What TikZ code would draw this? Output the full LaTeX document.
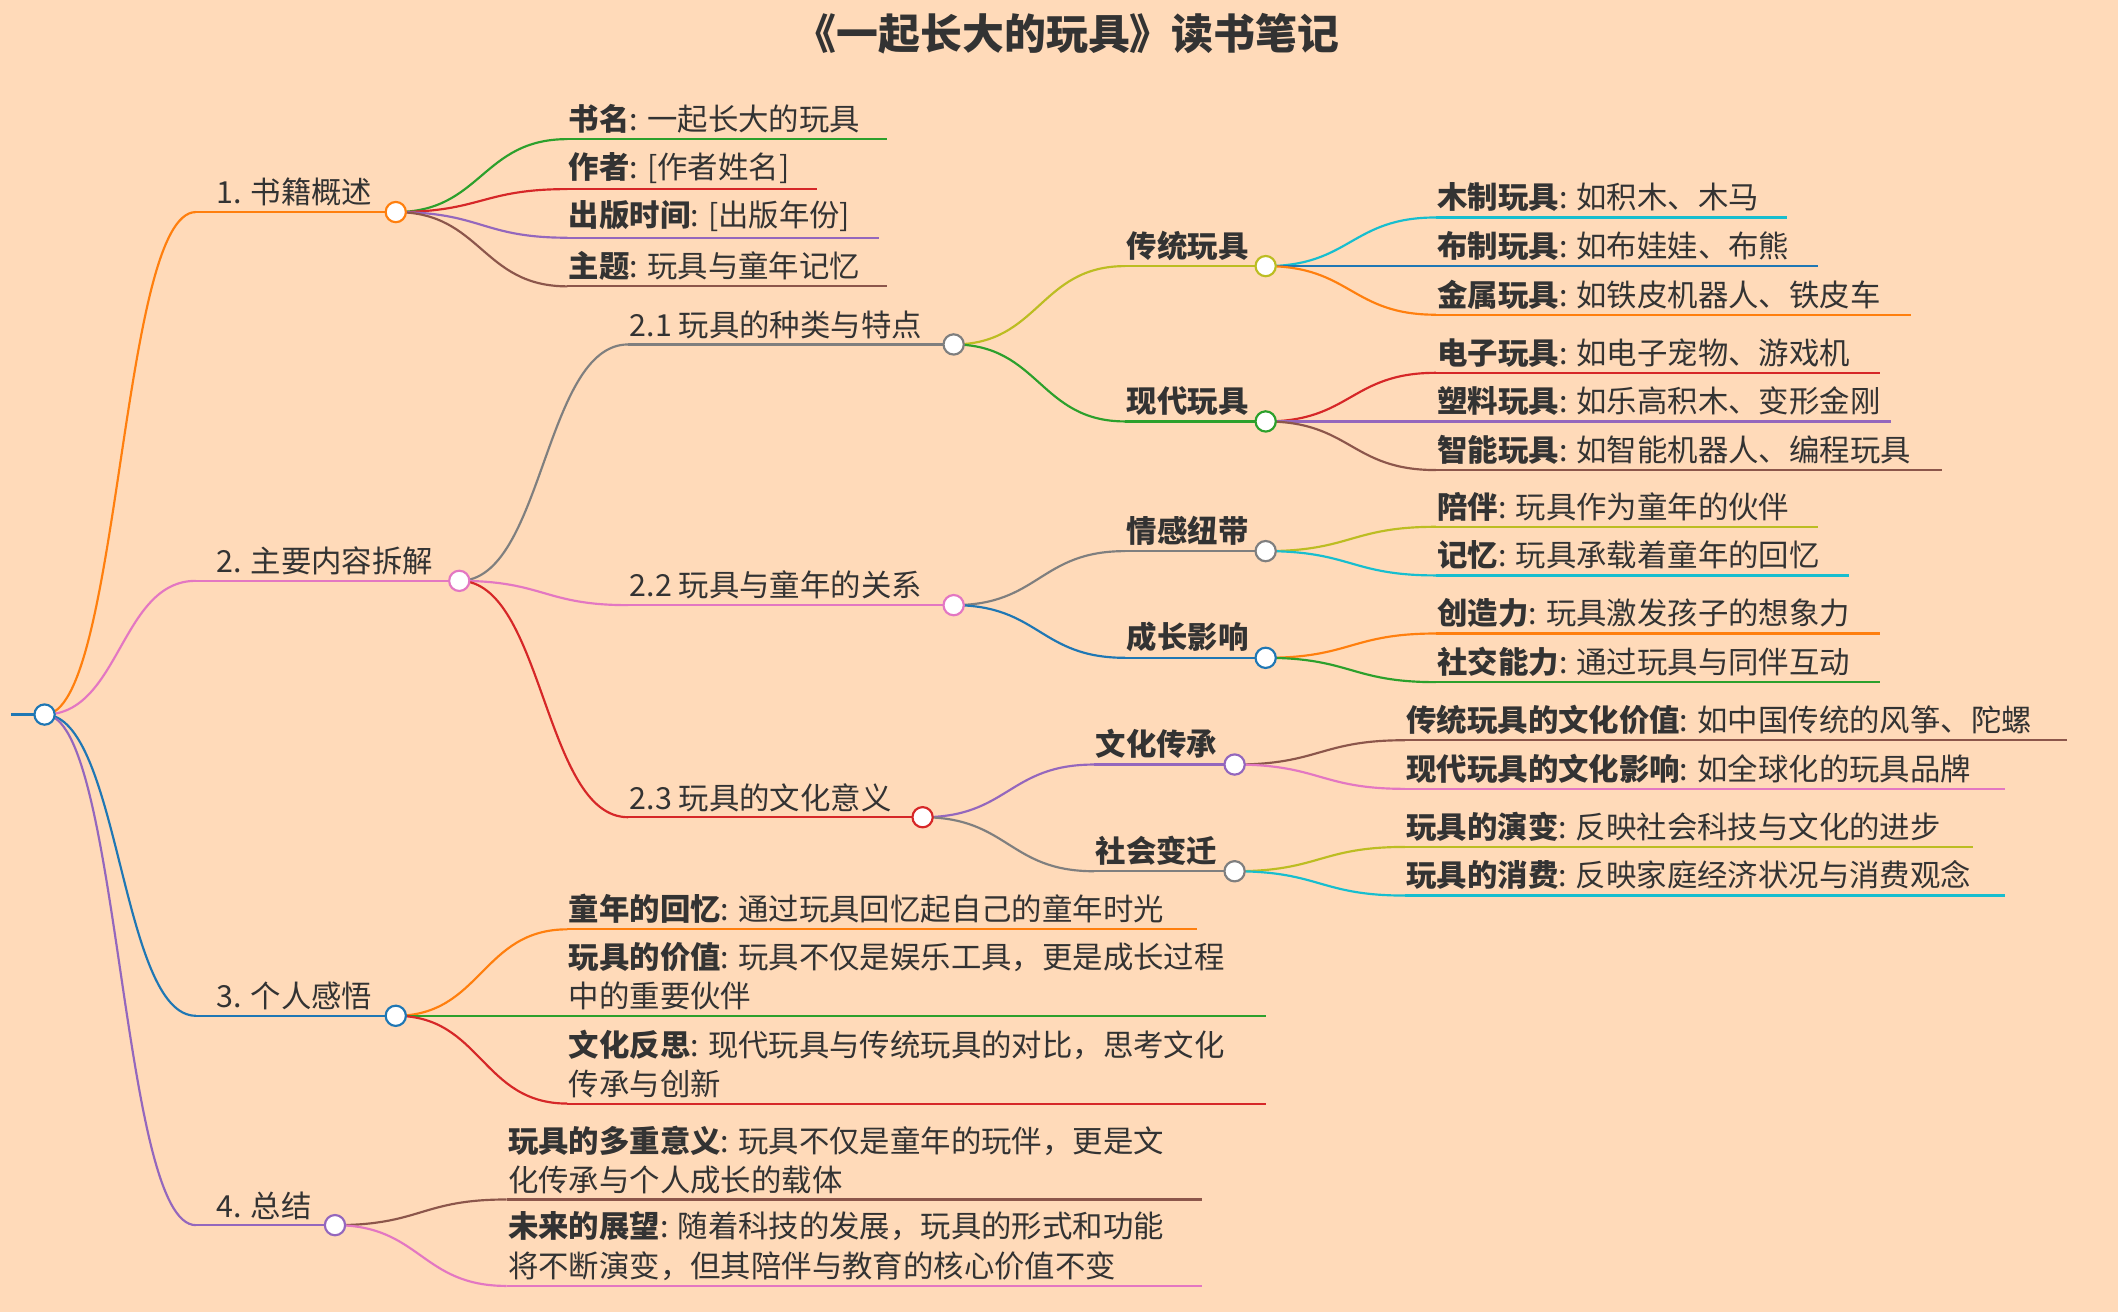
\documentclass[tikz,border=0pt]{standalone}
\usepackage{fontspec}
\setmainfont{Noto Sans CJK SC}
\usetikzlibrary{calc}
\definecolor{bgpeach}{HTML}{FFDAB9}
\definecolor{cBlue}{HTML}{1F77B4}
\definecolor{cOrange}{HTML}{FF7F0E}
\definecolor{cGreen}{HTML}{2CA02C}
\definecolor{cRed}{HTML}{D62728}
\definecolor{cPurple}{HTML}{9467BD}
\definecolor{cBrown}{HTML}{8C564B}
\definecolor{cPink}{HTML}{E377C2}
\definecolor{cGray}{HTML}{7F7F7F}
\definecolor{cOlive}{HTML}{BCBD22}
\definecolor{cCyan}{HTML}{17BECF}
\definecolor{txt}{HTML}{333333}
\tikzset{
  mmline/.style={draw=#1, line width=1.6pt},
  mmtext/.style={anchor=south west, inner sep=1pt, align=left, text=txt,
    font=\fontsize{22.5}{29}\selectfont},
  dot/.style={circle, draw=#1, fill=white, line width=1.6pt, minimum size=15pt, inner sep=0pt}
}
% underline + label
\newcommand{\mmnode}[7][0]{%
  \draw[mmline=#6] (#3,#4) coordinate (#2-s) -- (#5,#4) coordinate (#2-e);
  \node[mmtext] (#2) at ($(#2-s)+(#1,-3)$) {#7};}
% curved link from parent end to child start
\newcommand{\mmlink}[3]{%
  \path ($(#1-e)!.5!(#2-s)$) coordinate (#1-#2-m);
  \draw[mmline=#3] (#1-e) .. controls (#1-#2-m |- #1-e) and (#1-#2-m |- #2-s) .. (#2-s);}
\newcommand{\mmdot}[2]{\node[dot=#2] (#1-c) at (#1-e) {};}
\begin{document}
\begin{tikzpicture}[x=1pt, y=-1pt]
  \fill[bgpeach] (0,0) rectangle (1568,971);
  \useasboundingbox (0,0) rectangle (1568,971);
  \node[text=txt, font=\fontsize{31}{34}\selectfont\bfseries] (title) at (790,25) {《一起长大的玩具》读书笔记};
  % root
  \draw[mmline=cBlue] (8,529) coordinate (root-s) -- (33,529) coordinate (root-e);
  % level 1
  \mmnode[14]{n1}{145}{157}{293}{cOrange}{1. 书籍概述}
  \mmnode[14]{n2}{145}{430}{340}{cPink}{2. 主要内容拆解}
  \mmnode[14]{n3}{145}{752}{293}{cBlue}{3. 个人感悟}
  \mmnode[14]{n4}{145}{907}{248}{cPurple}{4. 总结}
  \mmlink{root}{n1}{cOrange}
  \mmlink{root}{n2}{cPink}
  \mmlink{root}{n3}{cBlue}
  \mmlink{root}{n4}{cPurple}
  % 1
  \mmnode{a1}{420}{103}{657}{cGreen}{\textbf{书名}: 一起长大的玩具}
  \mmnode{a2}{420}{140}{605}{cRed}{\textbf{作者}: [作者姓名]}
  \mmnode{a3}{420}{176}{651}{cPurple}{\textbf{出版时间}: [出版年份]}
  \mmnode{a4}{420}{212}{657}{cBrown}{\textbf{主题}: 玩具与童年记忆}
  \mmlink{n1}{a1}{cGreen}
  \mmlink{n1}{a2}{cRed}
  \mmlink{n1}{a3}{cPurple}
  \mmlink{n1}{a4}{cBrown}
  % 2
  \mmnode{b1}{465}{255}{706}{cGray}{2.1 玩具的种类与特点}
  \mmnode{b2}{465}{448}{706}{cPink}{2.2 玩具与童年的关系}
  \mmnode{b3}{465}{605}{683}{cRed}{2.3 玩具的文化意义}
  \mmlink{n2}{b1}{cGray}
  \mmlink{n2}{b2}{cPink}
  \mmlink{n2}{b3}{cRed}
  % 2.1
  \mmnode{c1}{833}{197}{937}{cOlive}{\textbf{传统玩具}}
  \mmnode{c2}{833}{312}{937}{cGreen}{\textbf{现代玩具}}
  \mmlink{b1}{c1}{cOlive}
  \mmlink{b1}{c2}{cGreen}
  \mmnode{d1}{1063}{161}{1323}{cCyan}{\textbf{木制玩具}: 如积木、木马}
  \mmnode{d2}{1063}{197}{1346}{cBlue}{\textbf{布制玩具}: 如布娃娃、布熊}
  \mmnode{d3}{1063}{233}{1415}{cOrange}{\textbf{金属玩具}: 如铁皮机器人、铁皮车}
  \mmlink{c1}{d1}{cCyan}
  \mmlink{c1}{d2}{cBlue}
  \mmlink{c1}{d3}{cOrange}
  \mmnode{d4}{1063}{276}{1392}{cRed}{\textbf{电子玩具}: 如电子宠物、游戏机}
  \mmnode{d5}{1063}{312}{1400}{cPurple}{\textbf{塑料玩具}: 如乐高积木、变形金刚}
  \mmnode{d6}{1063}{348}{1438}{cBrown}{\textbf{智能玩具}: 如智能机器人、编程玩具}
  \mmlink{c2}{d4}{cRed}
  \mmlink{c2}{d5}{cPurple}
  \mmlink{c2}{d6}{cBrown}
  % 2.2
  \mmnode{c3}{833}{408}{937}{cGray}{\textbf{情感纽带}}
  \mmnode{c4}{833}{487}{937}{cBlue}{\textbf{成长影响}}
  \mmlink{b2}{c3}{cGray}
  \mmlink{b2}{c4}{cBlue}
  \mmnode{e1}{1063}{390}{1346}{cOlive}{\textbf{陪伴}: 玩具作为童年的伙伴}
  \mmnode{e2}{1063}{426}{1369}{cCyan}{\textbf{记忆}: 玩具承载着童年的回忆}
  \mmnode{e3}{1063}{469}{1392}{cOrange}{\textbf{创造力}: 玩具激发孩子的想象力}
  \mmnode{e4}{1063}{505}{1392}{cGreen}{\textbf{社交能力}: 通过玩具与同伴互动}
  \mmlink{c3}{e1}{cOlive}
  \mmlink{c3}{e2}{cCyan}
  \mmlink{c4}{e3}{cOrange}
  \mmlink{c4}{e4}{cGreen}
  % 2.3
  \mmnode{c5}{810}{566}{914}{cPurple}{\textbf{文化传承}}
  \mmnode{c6}{810}{645}{914}{cGray}{\textbf{社会变迁}}
  \mmlink{b3}{c5}{cPurple}
  \mmlink{b3}{c6}{cGray}
  \mmnode{f1}{1040}{548}{1530}{cBrown}{\textbf{传统玩具的文化价值}: 如中国传统的风筝、陀螺}
  \mmnode{f2}{1040}{584}{1484}{cPink}{\textbf{现代玩具的文化影响}: 如全球化的玩具品牌}
  \mmnode{f3}{1040}{627}{1461}{cOlive}{\textbf{玩具的演变}: 反映社会科技与文化的进步}
  \mmnode{f4}{1040}{663}{1484}{cCyan}{\textbf{玩具的消费}: 反映家庭经济状况与消费观念}
  \mmlink{c5}{f1}{cBrown}
  \mmlink{c5}{f2}{cPink}
  \mmlink{c6}{f3}{cOlive}
  \mmlink{c6}{f4}{cCyan}
  % 3
  \mmnode{g1}{420}{688}{886}{cOrange}{\textbf{童年的回忆}: 通过玩具回忆起自己的童年时光}
  \mmnode{g2}{420}{752}{937}{cGreen}{\textbf{玩具的价值}: 玩具不仅是娱乐工具，更是成长过程\\中的重要伙伴}
  \mmnode{g3}{420}{817}{937}{cRed}{\textbf{文化反思}: 现代玩具与传统玩具的对比，思考文化\\传承与创新}
  \mmlink{n3}{g1}{cOrange}
  \mmlink{n3}{g2}{cGreen}
  \mmlink{n3}{g3}{cRed}
  % 4
  \mmnode{h1}{375}{888}{890}{cBrown}{\textbf{玩具的多重意义}: 玩具不仅是童年的玩伴，更是文\\化传承与个人成长的载体}
  \mmnode{h2}{375}{952}{890}{cPink}{\textbf{未来的展望}: 随着科技的发展，玩具的形式和功能\\将不断演变，但其陪伴与教育的核心价值不变}
  \mmlink{n4}{h1}{cBrown}
  \mmlink{n4}{h2}{cPink}
  % circles
  \mmdot{root}{cBlue}
  \mmdot{n1}{cOrange}
  \mmdot{n2}{cPink}
  \mmdot{n3}{cBlue}
  \mmdot{n4}{cPurple}
  \mmdot{b1}{cGray}
  \mmdot{b2}{cPink}
  \mmdot{b3}{cRed}
  \mmdot{c1}{cOlive}
  \mmdot{c2}{cGreen}
  \mmdot{c3}{cGray}
  \mmdot{c4}{cBlue}
  \mmdot{c5}{cPurple}
  \mmdot{c6}{cGray}
\end{tikzpicture}
\end{document}
